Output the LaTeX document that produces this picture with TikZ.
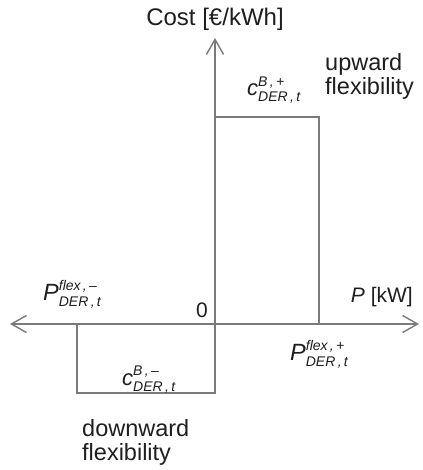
\documentclass[tikz,border=0pt]{standalone}
\usepackage{fontspec}
\setmainfont{Liberation Sans}
\usetikzlibrary{arrows.meta}
\definecolor{linegray}{HTML}{7A7A7A}
\definecolor{txt}{HTML}{1E1E1E}
\newcommand{\scr}{\fontsize{14}{14}\selectfont\itshape}
\newcommand{\symlab}[3]{\textit{#1}\makebox[0pt][l]{\raisebox{9.5pt}{\scr #2}}\raisebox{-6pt}{\scr #3}}
\tikzset{
  axisline/.style={draw=linegray, line width=1.4pt},
  barline/.style={draw=linegray, line width=1.4pt},
  tip/.style={-{Straight Barb[length=15pt,width=17pt,line width=1.4pt]}},
  lbl/.style={text=txt, inner sep=0pt, font=\fontsize{23.5}{24}\selectfont},
  smlbl/.style={text=txt, inner sep=0pt, font=\fontsize{21}{24}\selectfont},
}
\begin{document}
\begin{tikzpicture}[x=1pt,y=-1pt]
\useasboundingbox (0,0) rectangle (422,470);
% coordinates
\coordinate (o) at (215,324);
\coordinate (xl) at (10,324);
\coordinate (xr) at (419,324);
\coordinate (yt) at (215,38);
\coordinate (yb) at (215,393);
\coordinate (ua) at (215,117);
\coordinate (ub) at (319,117);
\coordinate (uc) at (319,324);
\coordinate (la) at (77,324);
\coordinate (lb) at (77,393);
% bars
\draw[barline] (ua) -- (ub) -- (uc);
\draw[barline] (la) -- (lb) -- (yb) -- (o);
% axes
\draw[axisline, tip] (o) -- (yt);
\draw[axisline, tip] (o) -- (xr);
\draw[axisline, tip] (o) -- (xl);
% labels
\node[lbl, anchor=base, font=\fontsize{24}{24}\selectfont] (cost) at (215,26) {Cost [€/kWh]};
\node[lbl, anchor=base west, align=left] (up) at (325,95) {upward\\flexibility};
\node[lbl, anchor=base west, font=\fontsize{22}{24}\selectfont] (cp) at (247,96) {\symlab{c}{B\,,\,+}{DER\,,\,t}};
\node[lbl, anchor=base west] (pm) at (43,300) {\symlab{P}{flex\,,\,–}{DER\,,\,t}};
\node[smlbl, anchor=base east] (zero) at (208,317) {0};
\node[smlbl, anchor=base east] (pkw) at (413,302) {\textit{P} [kW]};
\node[lbl, anchor=base west] (pp) at (290,360) {\symlab{P}{flex\,,\,+}{DER\,,\,t}};
\node[lbl, anchor=base west, font=\fontsize{22}{24}\selectfont] (cm) at (122,385) {\symlab{c}{B\,,\,–}{DER\,,\,t}};
\node[lbl, anchor=base west, align=left] (down) at (82,460) {downward\\flexibility};
\end{tikzpicture}
\end{document}
